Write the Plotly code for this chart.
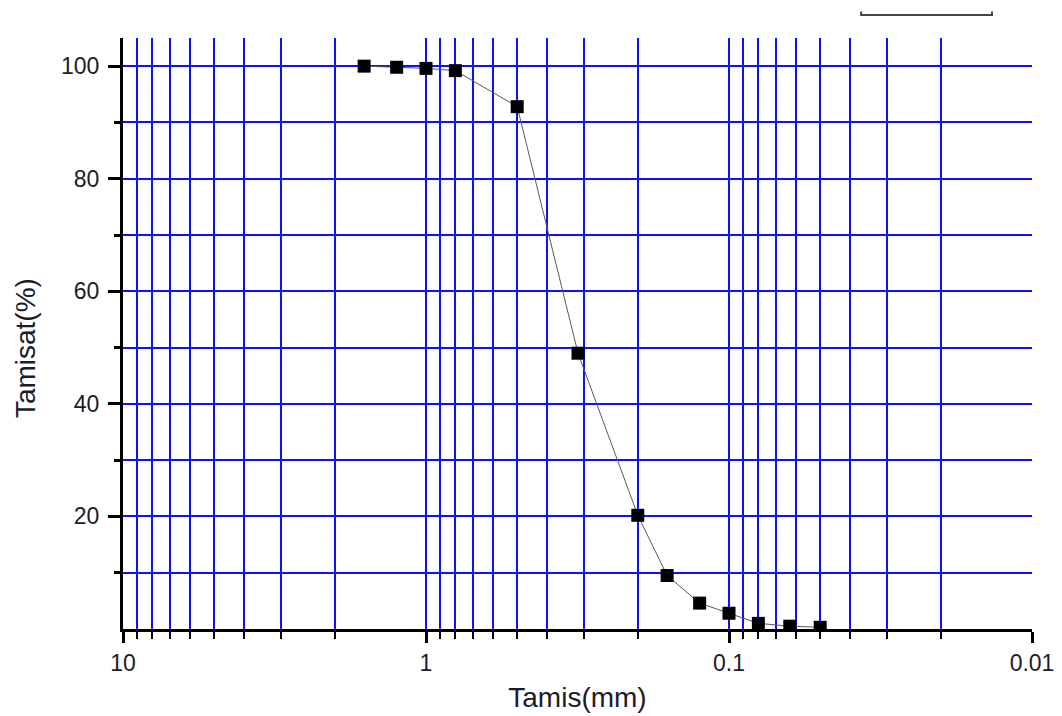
import plotly.graph_objects as go

# Sieve analysis: sieve opening (mm) vs. cumulative passing (%)
sieve_mm = [1.6, 1.25, 1.0, 0.8, 0.5, 0.315, 0.2, 0.16, 0.125, 0.1, 0.08, 0.063, 0.05]
passing_pct = [100.0, 99.8, 99.6, 99.2, 92.8, 49.0, 20.2, 9.5, 4.6, 2.8, 1.0, 0.5, 0.3]

# Axis ticks
x_major = [10, 1, 0.1, 0.01]
x_major_text = ["10", "1", "0.1", "0.01"]
x_minor = [9, 8, 7, 6, 5, 4, 3, 2, 1,
           0.9, 0.8, 0.7, 0.6, 0.5, 0.4, 0.3, 0.2, 0.1,
           0.09, 0.08, 0.07, 0.06, 0.05, 0.04, 0.03, 0.02]
y_major = [20, 40, 60, 80, 100]
y_minor = [10, 30, 50, 70, 90]

GRID = "#1010ff"
FONT = "Liberation Sans, Arial, sans-serif"
TXT = "#1c1c2a"

fig = go.Figure()
fig.add_trace(go.Scatter(
    x=sieve_mm, y=passing_pct, mode="lines+markers",
    line=dict(color="#5a5a5a", width=1),
    marker=dict(symbol="square", size=13, color="black", line=dict(width=0)),
    showlegend=False,
))

fig.update_layout(
    width=1062, height=716,
    margin=dict(l=123, r=30, t=38, b=87),
    paper_bgcolor="white", plot_bgcolor="white",
    font=dict(family=FONT, color=TXT, size=23),
    xaxis=dict(
        type="log", range=[1, -2], automargin=False,
        tickmode="array", tickvals=x_major, ticktext=x_major_text,
        ticks="outside", ticklen=11, tickwidth=3, tickcolor="black",
        showgrid=False, zeroline=False,
        showline=True, linecolor="black", linewidth=3,
        tickfont=dict(size=23, color=TXT),
        title=dict(text="Tamis(mm)", font=dict(size=28, color=TXT), standoff=13),
        minor=dict(tickmode="array", tickvals=x_minor, ticks="outside",
                   ticklen=7, tickwidth=2, tickcolor="black",
                   showgrid=True, gridcolor=GRID, gridwidth=1.6),
    ),
    yaxis=dict(
        range=[0, 105], automargin=False,
        tickmode="array", tickvals=y_major,
        ticks="outside", ticklen=12, tickwidth=3, tickcolor="black",
        showgrid=True, gridcolor=GRID, gridwidth=1.6,
        zeroline=False,
        showline=True, linecolor="black", linewidth=3,
        tickfont=dict(size=23, color=TXT),
        ticklabelstandoff=4,
        minor=dict(tickmode="array", tickvals=y_minor, ticks="outside",
                   ticklen=6, tickwidth=3, tickcolor="black",
                   showgrid=True, gridcolor=GRID, gridwidth=1.6),
    ),
    annotations=[dict(
        text="Tamisat(%)", textangle=-90, xref="paper", yref="paper",
        x=-0.108, y=0.475, xanchor="center", yanchor="middle",
        showarrow=False, font=dict(size=28, color=TXT),
    )],
    shapes=[dict(
        type="path", xref="paper", yref="paper",
        path="M 0.812 1.045 L 0.812 1.039 L 0.956 1.039 L 0.956 1.045",
        line=dict(color="#444444", width=2),
    )],
)

fig.write_html("out.html")
